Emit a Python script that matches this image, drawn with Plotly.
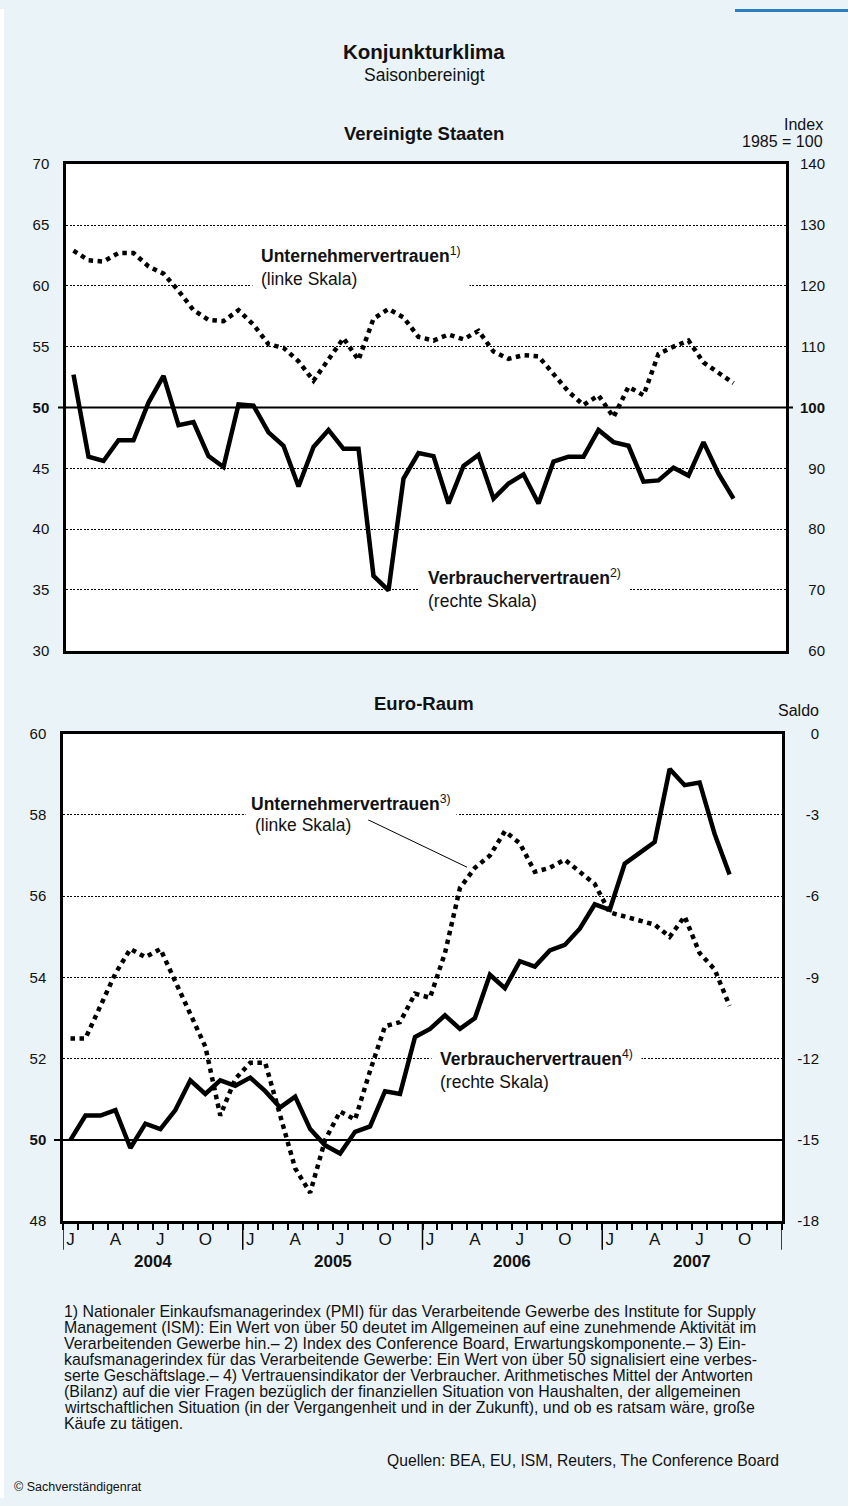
import plotly.graph_objects as go

W, H = 848, 1506
FONT = "Liberation Sans, Arial, Helvetica, sans-serif"
INK = "#111111"
BG = "#EAF3F7"

# monthly values, Jan 2004 - Sep 2007
US_PMI = [62.9, 62.1, 62.0, 62.7, 62.7, 61.6, 61.0, 59.6, 58.0, 57.2, 57.1, 58.0,
          56.8, 55.2, 54.9, 53.8, 52.2, 53.9, 55.7, 53.9, 57.3, 58.1, 57.4, 55.8,
          55.5, 56.0, 55.6, 56.3, 54.6, 54.0, 54.3, 54.2, 52.7, 51.3, 50.2, 51.0,
          49.2, 51.7, 51.0, 54.4, 55.0, 55.5, 53.7, 52.8, 52.0]
US_CONF = [105.4, 91.9, 91.2, 94.6, 94.6, 100.8, 105.2, 97.1, 97.6, 92.0, 90.2, 100.5,
           100.3, 95.9, 93.7, 87.0, 93.5, 96.3, 93.2, 93.2, 72.3, 69.9, 88.3, 92.5,
           92.0, 84.2, 90.4, 92.2, 85.0, 87.5, 89.0, 84.2, 91.1, 91.9, 91.9, 96.3,
           94.3, 93.7, 87.8, 88.0, 90.1, 88.8, 94.3, 89.1, 85.0]
EU_PMI = [52.5, 52.5, 53.3, 54.1, 54.7, 54.5, 54.7, 53.9, 53.1, 52.3, 50.6, 51.5,
          51.9, 51.9, 50.6, 49.3, 48.7, 50.0, 50.7, 50.5, 51.7, 52.8, 52.9, 53.6,
          53.5, 54.6, 56.2, 56.7, 57.0, 57.6, 57.3, 56.6, 56.7, 56.9, 56.6, 56.3,
          55.6, 55.5, 55.4, 55.3, 55.0, 55.5, 54.6, 54.2, 53.3]
EU_CONF = [-15.0, -14.1, -14.1, -13.9, -15.3, -14.4, -14.6, -13.9, -12.8, -13.3, -12.8, -13.0,
           -12.7, -13.2, -13.8, -13.4, -14.6, -15.2, -15.5, -14.7, -14.5, -13.2, -13.3, -11.2,
           -10.9, -10.4, -10.9, -10.5, -8.9, -9.4, -8.4, -8.6, -8.0, -7.8, -7.2, -6.3,
           -6.5, -4.8, -4.4, -4.0, -1.3, -1.9, -1.8, -3.7, -5.2]

YEARS = ["2004", "2005", "2006", "2007"]
MONTH_LETTERS = ["J", "A", "J", "O"]
MONTH_INDEX = [0, 3, 6, 9]

US_LEFT_TICKS = [30, 35, 40, 45, 50, 55, 60, 65, 70]
US_RIGHT_TICKS = [60, 70, 80, 90, 100, 110, 120, 130, 140]
EU_LEFT_TICKS = [48, 50, 52, 54, 56, 58, 60]
EU_RIGHT_TICKS = [-18, -15, -12, -9, -6, -3, 0]

FOOTNOTES = [
    "1) Nationaler Einkaufsmanagerindex (PMI) für das Verarbeitende Gewerbe des Institute for Supply",
    "Management (ISM): Ein Wert von über 50 deutet im Allgemeinen auf eine zunehmende Aktivität im",
    "Verarbeitenden Gewerbe hin.– 2) Index des Conference Board, Erwartungskomponente.– 3) Ein-",
    "kaufsmanagerindex für das Verarbeitende Gewerbe: Ein Wert von über 50 signalisiert eine verbes-",
    "serte Geschäftslage.– 4) Vertrauensindikator der Verbraucher. Arithmetisches Mittel der Antworten",
    "(Bilanz) auf die vier Fragen bezüglich der finanziellen Situation von Haushalten, der allgemeinen",
    "wirtschaftlichen Situation (in der Vergangenheit und in der Zukunft), und ob es ratsam wäre, große",
    "Käufe zu tätigen.",
]


def px(x):
    return x / W


def py(y):
    return 1 - y / H


def bold_at(ticks, value):
    return [f"<b>{t}</b>" if t == value else str(t) for t in ticks]


x_pos = [i + 0.5 for i in range(len(US_PMI))]
DOTS = "4.5px,4.5px"

fig = go.Figure()
fig.add_trace(go.Scatter(x=x_pos, y=US_PMI, xaxis="x", yaxis="y", mode="lines",
                         line=dict(color="black", width=4.5, dash=DOTS)))
fig.add_trace(go.Scatter(x=x_pos, y=US_CONF, xaxis="x", yaxis="y2", mode="lines",
                         line=dict(color="black", width=4.5)))
fig.add_trace(go.Scatter(x=x_pos, y=EU_PMI, xaxis="x2", yaxis="y3", mode="lines",
                         line=dict(color="black", width=4.5, dash=DOTS)))
fig.add_trace(go.Scatter(x=x_pos, y=EU_CONF, xaxis="x2", yaxis="y4", mode="lines",
                         line=dict(color="black", width=4.5)))

frame = dict(showline=True, linecolor="black", linewidth=2.5, mirror=True, zeroline=False)
tickfont = dict(family=FONT, size=15, color=INK)
left_axis = dict(frame, showgrid=True, griddash="2px,1.5px", gridcolor="black", gridwidth=1.2,
                 ticks="", tickfont=tickfont, ticklabelstandoff=11, tickmode="array")
right_axis = dict(showgrid=False, showline=False, zeroline=False, ticks="",
                  tickfont=tickfont, ticklabelstandoff=0, tickmode="array",
                  anchor="free", side="left")

month_ticks = [12 * k + m + 0.5 for k in range(len(YEARS)) for m in MONTH_INDEX]
month_text = [MONTH_LETTERS[j] for k in range(len(YEARS)) for j in range(len(MONTH_INDEX))]

fig.update_layout(
    width=W, height=H,
    margin=dict(l=0, r=0, t=0, b=0),
    paper_bgcolor=BG, plot_bgcolor="white",
    showlegend=False,
    font=dict(family=FONT, color=INK),
    xaxis=dict(frame, domain=[px(66), px(786)], range=[0, 48], anchor="y",
               showgrid=False, showticklabels=False, ticks=""),
    yaxis=dict(left_axis, domain=[py(649), py(157)], range=[30, 70], anchor="x",
               tickvals=US_LEFT_TICKS, ticktext=bold_at(US_LEFT_TICKS, 50)),
    yaxis2=dict(right_axis, overlaying="y", position=px(825), range=[60, 140],
                tickvals=US_RIGHT_TICKS, ticktext=bold_at(US_RIGHT_TICKS, 100)),
    xaxis2=dict(frame, domain=[px(63), px(782)], range=[0, 48], anchor="y3",
                showgrid=False, ticks="", tickmode="array",
                tickvals=month_ticks, ticktext=month_text,
                tickfont=dict(family=FONT, size=17, color=INK), ticklabelstandoff=1,
                minor=dict(tickmode="array", tickvals=list(range(49)), ticks="outside",
                           ticklen=6, tickwidth=1.5, tickcolor="black", showgrid=False)),
    yaxis3=dict(left_axis, domain=[py(1226), py(733)], range=[48, 60], anchor="x2",
                tickvals=EU_LEFT_TICKS, ticktext=bold_at(EU_LEFT_TICKS, 50)),
    yaxis4=dict(right_axis, overlaying="y3", position=px(819), range=[-18, 0],
                tickvals=EU_RIGHT_TICKS, ticktext=[str(t) for t in EU_RIGHT_TICKS]),
)

shapes = [
    dict(type="rect", xref="paper", yref="paper", x0=0, x1=px(4), y0=0, y1=1,
         fillcolor="white", line_width=0, layer="below"),
    dict(type="rect", xref="paper", yref="paper", x0=px(735), x1=1, y0=py(3), y1=1,
         fillcolor="#2a7fc1", line_width=0, layer="below"),
    dict(type="line", xref="paper", yref="y", x0=px(58), x1=px(793), y0=50, y1=50,
         line=dict(color="black", width=2), layer="below"),
    dict(type="line", xref="paper", yref="y3", x0=px(54), x1=px(782), y0=50, y1=50,
         line=dict(color="black", width=2), layer="below"),
    dict(type="line", xref="paper", yref="paper", x0=px(368), y0=py(820), x1=px(467), y1=py(868),
         line=dict(color="black", width=1), layer="above"),
]
for k in range(len(YEARS) + 1):
    shapes.append(dict(type="line", xref="x2", yref="y3 domain", x0=12 * k, x1=12 * k,
                       y0=0, y1=-29 / 493, line=dict(color="black", width=1.5), layer="below"))
fig.update_layout(shapes=shapes)

ann = []


def text(x, y, s, size=14, xanchor="center", **kw):
    ann.append(dict(x=px(x), y=py(y), xref="paper", yref="paper", text=s, showarrow=False,
                    xanchor=xanchor, yanchor="middle", align="left",
                    font=dict(family=FONT, size=size, color=INK), **kw))


text(424, 43, "<b>Konjunkturklima</b>", size=20.5)
text(424, 67, "Saisonbereinigt", size=17.5)
text(424, 126, "<b>Vereinigte Staaten</b>", size=18.5)
text(825, 117, "Index", size=16, xanchor="right")
text(825, 134, "1985 = 100", size=16, xanchor="right")
text(424, 702, "<b>Euro-Raum</b>", size=18.5)
text(821, 710, "Saldo", size=16, xanchor="right")

box = dict(bgcolor="white", borderpad=8)
text(252, 260, "<b>Unternehmervertrauen</b><sup>1)</sup><br>(linke Skala)", size=17.5,
     xanchor="left", **box)
text(419, 586, "<b>Verbrauchervertrauen</b><sup>2)</sup><br>(rechte Skala)", size=17.5,
     xanchor="left", **box)
text(245, 803, "<b>Unternehmervertrauen</b><sup>3)</sup>", size=17.5, xanchor="left",
     bgcolor="white", borderpad=5)
text(253, 825, "(linke Skala)", size=17.5, xanchor="left")
text(431, 1073, "<b>Verbrauchervertrauen</b><sup>4)</sup><br>(rechte Skala)", size=17.5,
     xanchor="left", **box)

for k, year in enumerate(YEARS):
    ann.append(dict(x=12 * k + 6, y=py(1267), xref="x2", yref="paper", text=f"<b>{year}</b>",
                    showarrow=False, xanchor="center", yanchor="middle",
                    font=dict(family=FONT, size=17, color=INK)))

for i, line in enumerate(FOOTNOTES):
    text(62, 1317 + 16.3 * i, line, size=15.9, xanchor="left")
text(781, 1468, "Quellen: BEA, EU, ISM, Reuters, The Conference Board", size=15.7, xanchor="right")
text(12, 1495, "© Sachverständigenrat", size=12.5, xanchor="left")

fig.update_layout(annotations=ann)
fig.write_html("out.html", config={"displayModeBar": False},
               post_script="document.body.style.margin='0px';")
